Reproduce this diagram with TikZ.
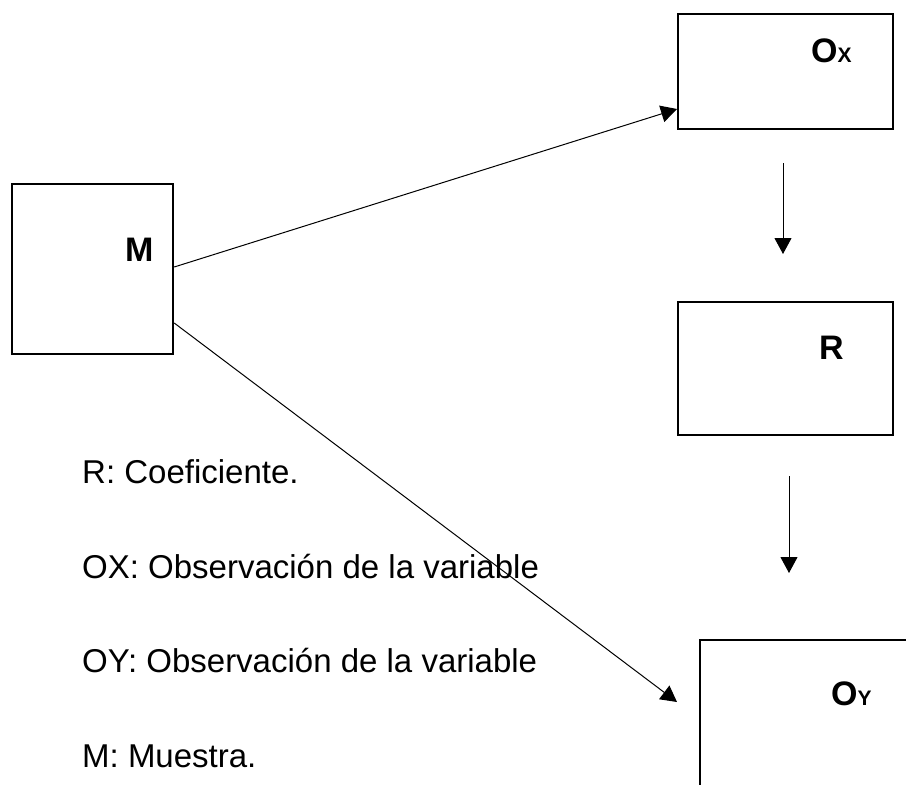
\documentclass[tikz,border=0pt]{standalone}
\usepackage{fontspec}
\setmainfont{Liberation Sans}
\usetikzlibrary{arrows.meta}
\begin{document}
\begin{tikzpicture}[x=1pt,y=-1pt,
  boxnode/.style={draw,line width=2.2pt,inner sep=0pt,anchor=north west},
  conn/.style={line width=1pt,-{Triangle[length=16pt,width=17pt]}},
  lbl/.style={anchor=base west,inner sep=0pt,font=\fontsize{34}{34}\selectfont\bfseries},
  legend/.style={anchor=base west,inner sep=0pt,font=\fontsize{33}{33}\selectfont}]
\useasboundingbox (0,0) rectangle (906,785);
\clip (0,0) rectangle (906,785);
% boxes
\node[boxnode,minimum width=161pt,minimum height=170pt] (M) at (11,183) {};
\node[boxnode,minimum width=215pt,minimum height=115pt] (OX) at (677,13) {};
\node[boxnode,minimum width=215pt,minimum height=133pt] (R) at (677,301) {};
\node[boxnode,minimum width=260pt,minimum height=200pt] (OY) at (699,639) {};
% labels
\node[lbl] (lM) at (125,261) {M};
\node[lbl] (lOX) at (811,62) {O{\fontsize{21}{21}\selectfont X}};
\node[lbl] (lR) at (819,359) {R};
\node[lbl] (lOY) at (831,705) {O{\fontsize{21}{21}\selectfont Y}};
% connectors
\coordinate (a1s) at (783,163);
\coordinate (a1e) at (783,254);
\coordinate (a2s) at (789,476);
\coordinate (a2e) at (789,573);
\draw[conn] (M.east |- 0,267) -- (OX.west |- 0,109);
\draw[conn] (M.east |- 0,323) -- (677,702) coordinate (d2e);
\draw[conn] (a1s) -- (a1e);
\draw[conn] (a2s) -- (a2e);
% legend
\node[legend] (t1) at (82,483.5) {R: Coeficiente.};
\node[legend] (t2) at (82,578.5) {OX: Observación de la variable};
\node[legend] (t3) at (82,672.5) {OY: Observación de la variable};
\node[legend] (t4) at (82,767.5) {M: Muestra.};
\end{tikzpicture}
\end{document}
